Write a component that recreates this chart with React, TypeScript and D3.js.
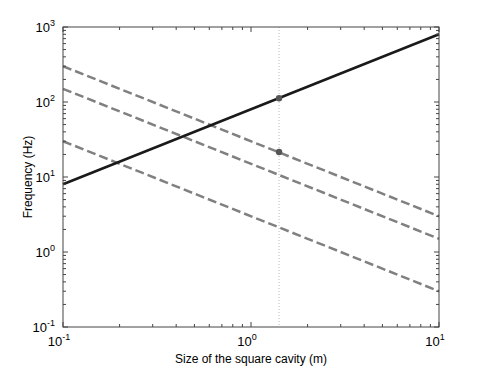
import * as d3 from "d3";

const width = 485;
const height = 368;
const margin = { top: 27, right: 46, bottom: 41, left: 63 };

// size of the cavity (m)
const xEnds = [0.1, 10];
// solid line: fundamental frequency vs size
const solidF = [8, 800];
// dashed lines: frequency vs size
const dashedF = [
  [300, 3],
  [150, 1.5],
  [30, 0.3],
];
const markerX = 1.41;
const markerF = [112, 21.5];
const xTickExp = [-1, 0, 1];
const yTickExp = [-1, 0, 1, 2, 3];

const App = () => {
  const iw = width - margin.left - margin.right;
  const ih = height - margin.top - margin.bottom;
  const x = d3.scaleLog().domain([0.1, 10]).range([0, iw]);
  const y = d3.scaleLog().domain([0.1, 1000]).range([ih, 0]);

  const line = d3
    .line<[number, number]>()
    .x((d) => x(d[0]))
    .y((d) => y(d[1]));

  const minorX: number[] = [];
  for (let e = -1; e < 1; e++)
    for (let k = 2; k <= 9; k++) minorX.push(k * Math.pow(10, e));
  const minorY: number[] = [];
  for (let e = -1; e < 3; e++)
    for (let k = 2; k <= 9; k++) minorY.push(k * Math.pow(10, e));

  const axisColor = "#444";
  const font = "Liberation Sans, Arial, sans-serif";

  return (
    <svg width={width} height={height} style={{ position: "absolute", left: 0, top: 0 }}>
      <rect width={width} height={height} fill="#fff" />
      <g transform={`translate(${margin.left},${margin.top})`}>
        {/* vertical dotted line */}
        <line
          x1={x(markerX)}
          x2={x(markerX)}
          y1={0}
          y2={ih}
          stroke="#bbb"
          strokeWidth={1}
          strokeDasharray="1,2"
        />
        {dashedF.map((f, i) => (
          <path
            key={i}
            d={line([
              [xEnds[0], f[0]],
              [xEnds[1], f[1]],
            ]) as string}
            fill="none"
            stroke="#808080"
            strokeWidth={2.5}
            strokeDasharray="9,4"
          />
        ))}
        <path
          d={line([
            [xEnds[0], solidF[0]],
            [xEnds[1], solidF[1]],
          ]) as string}
          fill="none"
          stroke="#1a1a1a"
          strokeWidth={2.5}
        />
        {markerF.map((f, i) => (
          <circle key={i} cx={x(markerX)} cy={y(f)} r={3.2} fill="#555" />
        ))}

        {/* axes box */}
        <rect width={iw} height={ih} fill="none" stroke={axisColor} strokeWidth={1} />
        {/* ticks */}
        {xTickExp.map((e) => {
          const px = x(Math.pow(10, e));
          return (
            <g key={"xt" + e}>
              <line x1={px} x2={px} y1={ih} y2={ih - 5} stroke={axisColor} />
              <line x1={px} x2={px} y1={0} y2={5} stroke={axisColor} />
            </g>
          );
        })}
        {minorX.map((v, i) => (
          <g key={"xm" + i}>
            <line x1={x(v)} x2={x(v)} y1={ih} y2={ih - 3} stroke={axisColor} />
            <line x1={x(v)} x2={x(v)} y1={0} y2={3} stroke={axisColor} />
          </g>
        ))}
        {yTickExp.map((e) => {
          const py = y(Math.pow(10, e));
          return (
            <g key={"yt" + e}>
              <line x1={0} x2={5} y1={py} y2={py} stroke={axisColor} />
              <line x1={iw} x2={iw - 5} y1={py} y2={py} stroke={axisColor} />
            </g>
          );
        })}
        {minorY.map((v, i) => (
          <g key={"ym" + i}>
            <line x1={0} x2={3} y1={y(v)} y2={y(v)} stroke={axisColor} />
            <line x1={iw} x2={iw - 3} y1={y(v)} y2={y(v)} stroke={axisColor} />
          </g>
        ))}

        {/* tick labels */}
        {xTickExp.map((e) => (
          <text
            key={"xl" + e}
            x={x(Math.pow(10, e)) - 4}
            y={ih + 19}
            textAnchor="middle"
            fontFamily={font}
            fontSize={13}
            fill="#000"
          >
            10
            <tspan dy={-6} fontSize={9}>
              {e}
            </tspan>
          </text>
        ))}
        {yTickExp.map((e) => (
          <text
            key={"yl" + e}
            x={-8}
            y={y(Math.pow(10, e)) + 5}
            textAnchor="end"
            fontFamily={font}
            fontSize={13}
            fill="#000"
          >
            10
            <tspan dy={-6} fontSize={9}>
              {e}
            </tspan>
          </text>
        ))}

        <text
          x={iw / 2}
          y={ih + 36}
          textAnchor="middle"
          fontFamily={font}
          fontSize={12}
          fill="#000"
        >
          Size of the square cavity (m)
        </text>
        <text
          transform={`translate(${-31},${ih / 2}) rotate(-90)`}
          textAnchor="middle"
          fontFamily={font}
          fontSize={12}
          fill="#000"
        >
          Frequency (Hz)
        </text>
      </g>
    </svg>
  );
};

export default App;
